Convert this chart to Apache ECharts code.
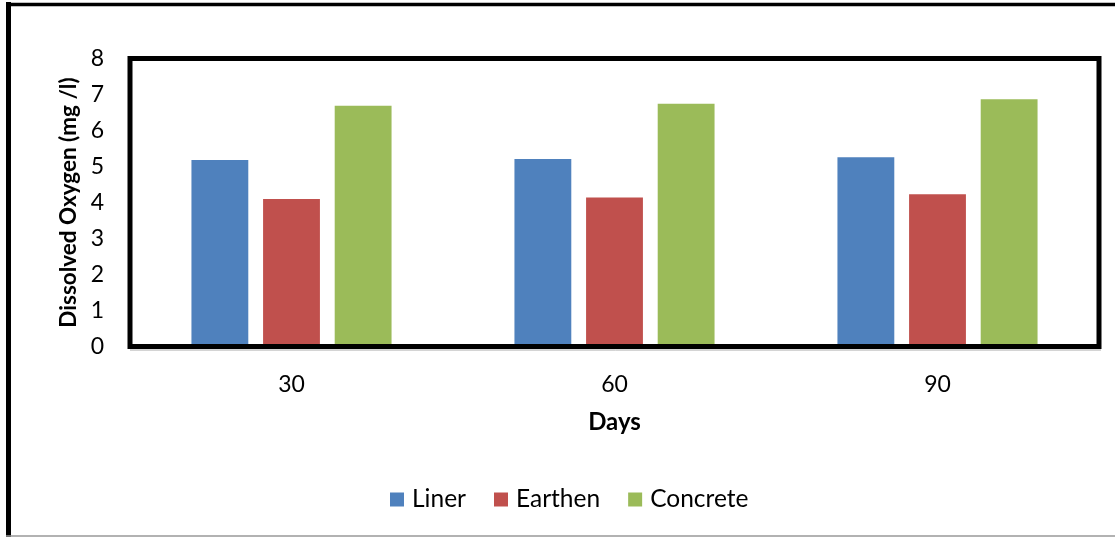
<!DOCTYPE html>
<html>
<head>
<meta charset="utf-8">
<script src="https://cdn.jsdelivr.net/npm/echarts@6/dist/echarts.min.js"></script>
<style>
  html, body { margin: 0; padding: 0; background: #fff; }
  #chart { width: 1115px; height: 537px; }
</style>
</head>
<body>
<div id="chart"></div>
<script>
// Dissolved oxygen by canal lining type over time
const days = ['30', '60', '90'];
const liner = [5.18, 5.21, 5.26];
const earthen = [4.10, 4.14, 4.23];
const concrete = [6.69, 6.74, 6.87];
const seriesNames = ['Liner', 'Earthen', 'Concrete'];
const seriesColors = ['#4F81BD', '#C0504D', '#9BBB59'];

const FONT = 'Lato, "Open Sans", sans-serif';

const chart = echarts.init(document.getElementById('chart'), null, { renderer: 'canvas' });

function bar(name, data, color) {
  return {
    name: name,
    type: 'bar',
    data: data,
    barWidth: '17.6%',
    barGap: '26%',
    itemStyle: { color: color },
    z: 1
  };
}

chart.setOption({
  animation: false,
  backgroundColor: '#ffffff',
  textStyle: { fontFamily: FONT },
  grid: {
    left: 130, right: 16, top: 58.5, bottom: 190.5,
    show: true,
    borderColor: '#000000',
    borderWidth: 5,
    backgroundColor: 'transparent',
    z: 5
  },
  legend: {
    data: seriesNames,
    top: 482,
    left: 385,
    itemWidth: 14,
    itemHeight: 14,
    itemGap: 28,
    icon: 'rect',
    textStyle: { fontFamily: FONT, fontSize: 24.5, color: '#000', padding: [0, 0, 0, 3] }
  },
  xAxis: {
    type: 'category',
    data: days,
    name: 'Days',
    nameLocation: 'middle',
    nameGap: 64,
    nameTextStyle: { fontFamily: FONT, fontSize: 24, fontWeight: 'bold', color: '#000' },
    axisLine: { show: false },
    axisTick: { show: false },
    axisLabel: { fontFamily: FONT, fontSize: 23, color: '#000', margin: 27 },
    splitLine: { show: false }
  },
  yAxis: {
    type: 'value',
    min: 0,
    max: 8,
    interval: 1,
    name: 'Dissolved Oxygen (mg /l)',
    nameLocation: 'middle',
    nameGap: 50,
    nameTextStyle: { fontFamily: FONT, fontSize: 22.5, fontWeight: 'bold', color: '#000' },
    axisLine: { show: false },
    axisTick: { show: false },
    axisLabel: { fontFamily: FONT, fontSize: 23, color: '#000', margin: 26 },
    splitLine: { show: false }
  },
  graphic: [
    // outer chart frame: heavy left and top edges, light bottom edge
    { type: 'line', shape: { x1: 8.5, y1: 2, x2: 8.5, y2: 537 }, style: { stroke: '#000', lineWidth: 5 }, silent: true },
    { type: 'line', shape: { x1: 6, y1: 4.5, x2: 1115, y2: 4.5 }, style: { stroke: '#000', lineWidth: 3.5 }, silent: true },
    { type: 'line', shape: { x1: 6, y1: 536, x2: 1115, y2: 536 }, style: { stroke: '#999', lineWidth: 1.5 }, silent: true },
    // soft shadow under the plot border
    { type: 'line', shape: { x1: 130, y1: 350, x2: 1101, y2: 350 }, style: { stroke: '#aaa', lineWidth: 1 }, silent: true }
  ],
  series: [
    bar(seriesNames[0], liner, seriesColors[0]),
    bar(seriesNames[1], earthen, seriesColors[1]),
    bar(seriesNames[2], concrete, seriesColors[2])
  ]
});
</script>
</body>
</html>
